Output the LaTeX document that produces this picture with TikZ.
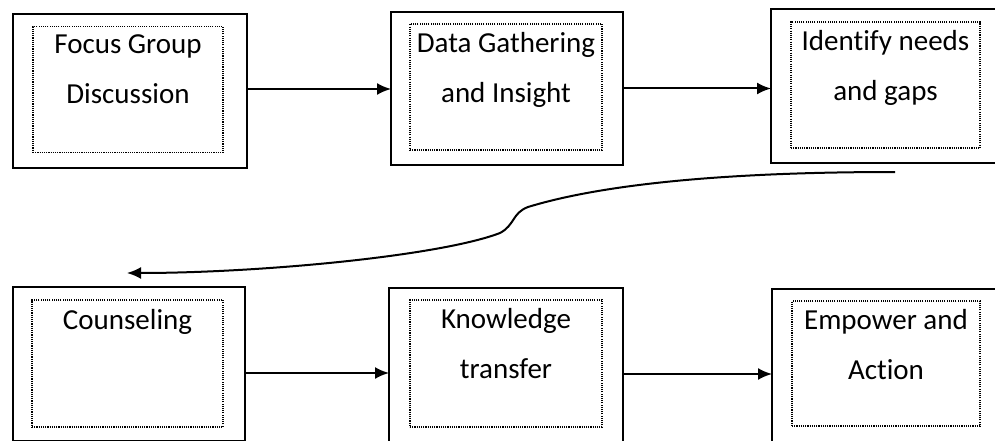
\documentclass[tikz,border=0pt]{standalone}
\usepackage{fontspec}
\setmainfont{Carlito}[Ligatures=CommonOff]
\usetikzlibrary{arrows.meta,positioning}
\tikzset{>={Latex[length=14pt,width=12pt]}}
\tikzset{
  outbox/.style={draw, line width=1.9pt, minimum width=234pt, minimum height=154pt, inner sep=0pt, outer sep=0pt},
  inbox/.style={draw, line width=1.4pt, dash pattern=on 1.1pt off 1.1pt, minimum width=190pt, minimum height=126pt, inner sep=0pt},
  boxtext/.style={inner sep=0pt, align=center, font=\fontsize{29}{50}\selectfont},
  flow/.style={->, line width=2pt}
}

\begin{document}
\begin{tikzpicture}[x=1pt, y=1pt]
    \useasboundingbox (0,0) rectangle (995,-441);
    \clip (0,0) rectangle (995,-441);
    % top row
    \node[outbox] (fgd) at (130,-91) {};
    \node[inbox] (fgdin) at (128,-89.5) {};
    \node[boxtext, below=9pt of fgdin.north] (fgdtxt) {Focus Group\\Discussion};
    \node[outbox, minimum width=232pt, minimum height=153pt] (dgi) at (507,-88.5) {};
    \node[inbox, minimum width=192pt] (dgiin) at (506,-87) {};
    \node[boxtext, below=9pt of dgiin.north] (dgitxt) {Data Gathering\\and Insight};
    \node[outbox] (idn) at (888,-86) {};
    \node[inbox, minimum width=189pt] (idnin) at (885.5,-85) {};
    \node[boxtext, below=9pt of idnin.north] (idntxt) {Identify needs\\and gaps};
    % bottom row
    \node[outbox, minimum width=232pt] (cou) at (129,-364) {};
    \node[inbox, minimum width=191pt, minimum height=127pt] (couin) at (127.5,-363.5) {};
    \node[boxtext, below=10pt of couin.north] (coutxt) {Counseling};
    \node[outbox] (ktr) at (506,-365) {};
    \node[inbox, minimum width=192pt, minimum height=127pt] (ktrin) at (506,-363.5) {};
    \node[boxtext, below=9pt of ktrin.north] (ktrtxt) {Knowledge\\transfer};
    \node[outbox] (ema) at (889,-366) {};
    \node[inbox, minimum width=188pt, minimum height=125pt] (emain) at (886,-363.5) {};
    \node[boxtext, below=9pt of emain.north] (ematxt) {Empower and\\Action};
    % connectors
    \draw[flow] ([yshift=2pt]fgd.east) -- ([yshift=2pt]fgd.east -| dgi.west);
    \draw[flow] (dgi.east) -- (dgi.east -| idn.west);
    \draw[flow] ([yshift=-9pt]cou.east) -- ([yshift=-9pt]cou.east -| ktr.west);
    \draw[flow] ([yshift=-9pt]ktr.east) -- ([yshift=-9pt]ktr.east -| ema.west);
    \coordinate (wstart) at ([shift={(7pt,-9pt)}]idn.south);
    \coordinate (wend) at ([shift={(-2pt,14pt)}]cou.north);
    \draw[flow] (wstart) .. controls (700,-172) and (590,-188) .. (528,-207)
        .. controls (512,-213) and (515,-225) .. (500,-233)
        .. controls (440,-256) and (260,-273) .. (wend);
\end{tikzpicture}
\end{document}
